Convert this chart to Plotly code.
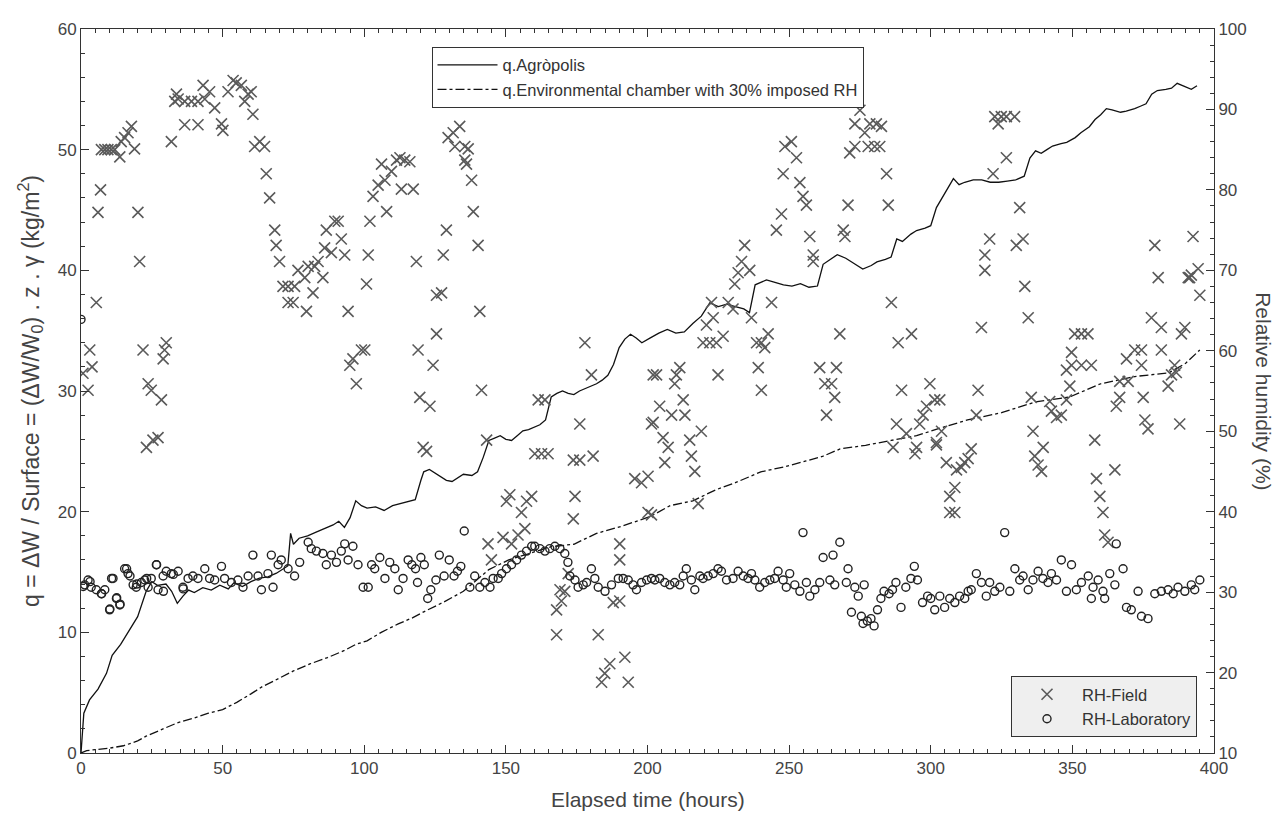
import plotly.graph_objects as go

# ---------------- data ----------------
# q.Agròpolis (left axis, kg/m2)
agro_h = [0, 0.5, 1, 3, 6, 9, 11, 14, 17, 20, 23, 25, 27, 30, 32, 34, 36, 38, 40, 43, 46, 49, 52, 54, 57, 60,
          63, 66, 69, 71, 73, 74, 75, 77, 80, 83, 86, 89, 91, 93, 95, 97, 99, 101, 104, 107, 110, 113, 116, 118,
          120, 121, 123, 125, 127, 129, 131, 133, 135, 138, 140, 142, 144, 146, 148, 150, 152, 154, 156, 158,
          160, 162, 164, 165, 166, 168, 170, 172, 174, 176, 178, 180, 182, 184, 186, 188, 190, 192, 194, 196,
          198, 201, 204, 207, 210, 213, 216, 219, 222, 225, 228, 231, 234, 236, 238, 240, 242, 245, 248, 251,
          254, 257, 260, 262, 264, 267, 270, 272, 274, 276, 279, 281, 284, 286, 288, 290, 293, 295, 298, 300,
          302, 304, 306, 308, 310, 312, 315, 318, 321, 324, 327, 330, 333, 335, 337, 339, 341, 343, 346, 348,
          351, 353, 356, 358, 360, 362, 364, 367, 369, 372, 374, 376, 378, 380, 383, 385, 387, 390, 392, 394]
agro_q = [0, 1.5, 3.3, 4.4, 5.3, 6.6, 8.1, 9.0, 10.2, 11.3, 13.4, 14.2, 13.9, 14.0, 13.4, 12.4, 13.0, 13.5, 13.3,
          13.7, 13.5, 13.9, 13.6, 14.1, 13.8, 14.2, 14.5, 14.6, 14.9, 15.2, 15.5, 18.2, 17.3, 17.8, 18.0, 18.3,
          18.6, 18.9, 19.2, 18.7, 19.5, 20.9, 20.5, 20.3, 20.4, 20.1, 20.5, 20.7, 20.9, 21.0, 22.6, 23.3, 23.5,
          23.2, 22.9, 22.6, 22.5, 22.8, 23.1, 23.0, 23.3, 24.5, 25.9, 26.1, 26.3, 26.0, 25.9, 26.3, 26.7, 26.8,
          27.0, 27.2, 27.6, 28.5, 29.5, 29.8, 30.0, 29.8, 29.7, 30.0, 30.2, 30.4, 30.6, 30.9, 31.3, 32.2, 33.6,
          34.3, 34.7, 34.4, 34.0, 34.4, 34.8, 35.1, 34.8, 34.9, 35.6, 36.2, 37.3, 37.0, 37.2, 37.0, 36.8, 36.5,
          38.8, 39.0, 39.2, 39.0, 38.8, 38.7, 38.9, 38.6, 38.7, 40.5, 40.8, 41.3, 41.0, 40.7, 40.4, 40.1, 40.4,
          40.7, 40.9, 41.1, 42.6, 42.4, 43.0, 43.3, 43.5, 43.7, 45.2, 46.0, 46.9, 47.6, 47.1, 47.3, 47.5, 47.5,
          47.3, 47.3, 47.4, 47.5, 47.8, 49.3, 49.9, 49.7, 50.0, 50.3, 50.5, 50.6, 51.0, 51.4, 51.9, 52.5, 52.9,
          53.4, 53.3, 53.1, 53.2, 53.4, 53.6, 53.8, 54.6, 54.9, 55.0, 55.1, 55.5, 55.2, 55.0, 55.3]

# q.Environmental chamber with 30% imposed RH (left axis)
cham_h = [0, 2, 6, 10, 15, 20, 23, 28, 34, 40, 45, 50, 55, 60, 64, 70, 75, 81, 87, 93, 97, 101, 106, 112, 117,
          121, 128, 135, 140, 144, 151, 159, 166, 174, 182, 191, 201, 208, 216, 224, 231, 240, 248, 256, 262,
          268, 277, 286, 295, 303, 313, 325, 337, 349, 360, 372, 384, 390, 395]
cham_q = [0, 0.2, 0.3, 0.4, 0.6, 1.0, 1.4, 1.9, 2.5, 2.9, 3.3, 3.6, 4.2, 4.9, 5.5, 6.2, 6.8, 7.4, 7.9, 8.5, 9.0,
          9.3, 10.0, 10.7, 11.2, 11.7, 12.5, 13.4, 14.4, 15.2, 16.0, 16.6, 17.1, 17.3, 18.2, 18.8, 19.6, 20.5,
          20.9, 21.8, 22.4, 23.3, 23.7, 24.2, 24.6, 25.2, 25.5, 25.9, 26.3, 26.9, 27.6, 28.2, 29.1, 29.5, 30.6,
          31.2, 31.5, 32.3, 33.4]

# RH-Field (right axis, %)
field_h = [0.7, 3.1, 3.9, 2.5, 5.4, 6.0, 6.9, 7.2, 8.4, 9.5, 10.7, 11.9, 13.7, 14.2, 15.4, 16.6, 17.8, 18.9,
           20.1, 20.7, 21.9, 23.1, 23.7, 24.8, 28.4, 25.4, 27.2, 29.0, 30.1, 29.5, 31.9, 33.7, 33.1, 34.3, 36.6,
           39.0, 41.3, 36.6, 41.3, 43.7, 43.1, 45.4, 47.2, 49.6, 50.1, 51.9, 53.7, 54.8, 56.6, 57.8, 59.0, 60.1,
           60.7, 61.3, 63.1, 64.8, 65.4, 66.6, 68.4, 68.9, 70.1, 71.3, 73.1, 75.4, 73.1, 74.9, 76.6, 79.0, 80.2,
           79.6, 81.9, 82.5, 83.7, 85.4, 86.0, 86.6, 88.4, 89.6, 90.8, 91.9, 93.1, 94.3, 94.9, 96.0, 97.2, 99.0,
           100.2, 100.8, 101.4, 102.0, 103.1, 104.9, 106.1, 107.3, 107.9, 109.6, 111.4, 112.6, 114.3, 116.1,
           113.1, 117.3, 118.4, 119.0, 119.6, 123.2, 120.8, 122.0, 124.3, 125.5, 125.5, 127.3, 127.9, 129.0,
           129.6, 131.4, 132.0, 133.7, 135.5, 136.7, 135.5, 136.1, 137.9, 138.5, 140.2, 140.8, 141.4, 143.2,
           143.7, 144.9, 149.0, 152.0, 154.3, 156.7, 150.2, 151.4, 155.5, 157.3, 159.1, 161.4, 163.8, 160.2,
           162.6, 164.9, 167.9, 169.6, 170.8, 169.1, 167.9, 172.0, 173.8, 174.4, 173.8, 176.1, 180.8, 176.1,
           180.2, 177.9, 182.6, 183.8, 184.9, 186.7, 187.9, 190.2, 190.2, 190.2, 192.0, 193.2, 195.5, 197.9,
           200.2, 200.2, 202.0, 201.4,
           201.4, 202.0, 203.2, 204.3, 205.5, 207.3, 206.1, 208.5, 213.2, 209.6, 210.2, 211.4, 212.6, 214.9,
           215.5, 216.7, 217.9, 219.0, 219.6, 222.0, 224.3, 226.7, 220.8, 223.2, 222.6, 224.9, 228.5, 230.2,
           230.8, 232.0, 233.2, 234.3, 236.1, 236.7, 238.5, 240.2, 241.4, 242.6, 239.1, 240.2, 243.8, 245.5,
           247.3, 247.9, 248.5, 250.8, 252.6, 253.8, 254.9, 256.1, 257.3, 258.5, 258.5, 260.8, 262.6, 265.0,
           266.7, 266.1, 263.2, 267.9, 269.1, 269.7, 270.8, 271.4, 273.2, 273.2, 275.0, 276.7, 278.5, 280.8,
           282.6, 277.9, 280.2, 282.0, 284.4, 285.0, 286.1, 288.5, 293.2, 289.7, 286.7, 287.9, 291.4, 294.4,
           295.0, 296.1, 297.3, 298.5, 299.7, 301.4, 302.0,
           303.2, 302.0, 303.8, 305.5, 306.7, 308.5, 306.7, 308.5, 309.1, 310.8, 312.0, 313.2, 314.3, 316.1,
           316.7, 317.9, 319.1, 319.1, 320.8, 322.0, 322.6, 323.8, 324.9, 326.7, 329.6, 326.7, 330.2, 331.4,
           332.6, 333.2, 334.4, 335.5, 336.1, 336.7, 337.9, 339.1, 339.7, 342.0, 342.6, 344.4, 346.1, 347.9,
           349.1, 347.9, 349.7, 350.8, 353.2, 355.5, 349.7, 353.2, 356.7, 357.9, 358.5, 359.7, 360.8, 361.4,
           362.6, 365.0, 365.5, 366.7, 366.7, 369.7, 369.1, 372.0, 374.4, 374.4, 375.0, 375.6, 376.7, 377.9,
           379.1, 380.3, 381.4, 381.4, 383.8, 385.0, 386.1, 386.7, 387.9, 388.5, 389.7, 390.9, 391.4, 392.0,
           392.6, 394.4, 395.0]
field_rh = [57.2, 60.1, 58.0, 55.1, 66.0, 77.2, 80.0, 85.0, 85.0, 85.0, 85.0, 85.0, 84.1, 86.0, 86.5, 87.1, 87.9,
            85.1, 77.2, 71.1, 60.1, 48.0, 55.9, 55.1, 53.9, 48.9, 49.2, 59.0, 61.0, 60.1, 86.0, 91.9, 91.0, 91.3,
            91.0, 91.0, 91.0, 88.1, 88.1, 91.3, 93.0, 92.2, 90.2, 88.2, 87.4, 92.2, 93.6, 93.3, 93.0, 91.0, 91.9,
            92.2, 89.4, 85.4, 86.0, 85.4, 82.0, 79.0, 75.0, 73.1, 71.1, 68.0, 68.0, 68.0, 66.0, 66.0, 70.0, 69.1,
            70.5, 64.9, 67.2, 70.5, 71.1, 69.1, 72.8, 75.0, 72.2, 76.1, 76.1, 73.9, 71.9, 64.9, 58.2, 59.0, 55.9,
            60.1,
            60.1, 68.3, 71.9, 76.1, 79.2, 80.6, 83.2, 81.2, 77.3, 82.3, 83.7, 84.0, 83.7, 83.5, 80.1, 80.1, 71.1,
            60.1, 54.2, 53.1, 48.0, 47.5, 58.2, 62.1, 66.9, 67.2, 71.9, 75.0, 86.5, 87.1, 85.4, 87.9, 85.4, 85.1,
            83.7, 83.2, 81.2, 77.3, 73.1, 64.9, 55.1, 48.9, 36.0, 34.0, 36.8, 36.0, 37.1, 37.9, 41.3, 42.1, 39.9,
            41.3, 41.9, 53.9, 53.9, 47.2, 47.2, 47.2, 27.8, 28.9, 30.1, 30.3, 24.7, 32.3, 39.1, 41.9, 46.4, 46.4,
            46.9, 50.9, 57.0, 61.0, 24.7, 18.8, 19.9, 21.1, 28.7, 28.9, 36.0, 34.0, 21.9, 18.8, 44.1, 43.6, 44.4,
            39.9, 57.0, 50.9,
            39.6, 51.1, 57.0, 53.1, 49.2, 48.0, 46.1, 52.0, 52.0, 55.9, 57.0, 57.9, 53.9, 48.9, 46.9, 45.0, 41.0,
            50.0, 61.0, 61.0, 61.0, 61.8, 63.2, 64.1, 66.0, 57.0, 66.0, 65.2, 68.3, 69.7, 71.1, 73.1, 70.0, 64.1,
            61.0, 61.0, 60.4, 62.1, 57.9, 55.1, 66.0, 75.0, 77.0, 82.0, 85.4, 86.0, 84.0, 80.9, 79.2, 78.1, 74.2,
            71.9, 71.1, 57.9, 55.9, 55.9, 57.9, 54.2, 52.0, 62.1, 75.0, 74.2, 78.1, 84.6, 85.4, 88.2, 89.9, 87.1,
            88.2, 88.2, 87.9, 85.4, 85.4, 85.4, 82.0, 78.1, 66.0, 61.0, 62.1, 55.1, 48.0, 50.9, 49.7, 47.2, 48.0,
            50.9, 52.0, 53.1, 55.9, 53.9, 48.6,
            53.9, 48.3, 50.0, 46.1, 41.9, 43.0, 39.9, 39.9, 45.2, 45.5, 46.1, 46.6, 47.8, 52.0, 55.1, 62.9, 70.0,
            71.9, 73.9, 82.0, 89.1, 88.2, 89.1, 89.1, 89.1, 84.0, 73.1, 77.8, 73.9, 68.0, 64.1, 54.2, 50.0, 46.9,
            45.8, 45.0, 48.0, 53.7, 52.5, 51.7, 52.0, 53.9, 55.6, 57.6, 59.8, 62.1, 62.1, 62.1, 58.2, 58.2, 58.2,
            48.9, 44.1, 41.9, 39.9, 37.1, 36.2, 45.2, 53.1, 54.2, 56.2, 56.2, 59.0, 60.1, 60.1, 58.2, 54.2, 51.4,
            50.3, 64.1, 73.1, 69.1, 62.9, 60.1, 55.6, 57.0, 58.2, 57.3, 50.9, 62.1, 62.9, 69.1, 69.1, 69.4, 74.2,
            70.2, 66.9]

# RH-Laboratory (right axis, %)
lab_h = [0.0, 0.8, 1.3, 2.5, 3.2, 3.6, 5.4, 7.2, 7.3, 8.4, 10.1, 10.2, 10.8, 11.3, 12.5, 12.6, 13.7, 13.8, 15.4,
         16.1, 16.6, 17.3, 18.4, 19.5, 19.7, 21.3, 22.5, 23.2, 23.7, 24.8, 26.6, 26.7, 27.2, 29.0, 29.1, 30.1,
         31.9, 32.6, 34.3, 36.0, 36.1, 37.8, 39.5, 41.3, 43.7, 45.4, 47.2, 49.6, 50.7, 53.1, 55.4, 57.2, 59.0,
         60.7, 62.5, 63.7, 66.0, 67.2, 67.8, 69.6, 70.7, 73.1, 75.4, 77.2, 80.2, 81.3, 83.1, 85.4, 86.6, 88.4,
         90.2, 91.9, 93.1, 94.3, 96.0, 97.8, 99.6,
         101.4, 102.6, 103.7, 105.5, 107.3, 109.0, 110.8, 112.0, 113.7, 115.5, 116.8, 118.1, 118.8, 120.0,
         121.2, 122.4, 123.5, 125.3, 126.5, 128.2, 130.0, 131.7, 132.9, 134.1, 135.3, 137.3, 139.0, 140.8,
         142.6, 144.4, 145.5, 147.3, 148.5, 150.2, 152.0, 153.8, 155.5, 157.3, 159.1, 160.2, 162.0, 163.8,
         165.5, 167.3, 169.1, 170.8, 171.9, 172.6, 174.4, 175.5, 177.3, 178.5, 180.2, 181.4, 182.6, 185.0,
         187.3, 189.7, 191.4, 193.2, 194.9, 196.1, 197.9, 199.7, 201.4,
         202.6, 204.3, 206.1, 207.9, 209.6, 211.4, 212.6, 213.7, 215.5, 216.7, 218.5, 219.6, 221.4, 223.2,
         224.9, 226.1, 227.9, 230.2, 232.0, 233.8, 235.5, 236.7, 237.9, 239.6, 241.4, 243.2, 244.9, 246.1,
         247.9, 249.0, 250.2, 252.0, 253.8, 254.9, 256.1, 257.3, 259.1, 260.8, 262.0, 264.4, 265.5, 266.1,
         267.9, 270.2, 270.8, 272.0, 273.2, 274.4, 275.5, 276.1, 276.5, 277.6, 278.9, 280.0, 281.2, 282.4,
         283.5, 285.3, 286.5, 287.7, 289.5, 291.2, 293.0, 294.2, 295.3, 297.1, 298.9, 300.0,
         301.4, 303.2, 304.9, 306.7, 308.5, 310.2, 312.0, 313.2, 314.3, 316.1, 317.9, 319.6, 320.8, 322.6,
         324.4, 326.1, 327.9, 329.7, 331.4, 332.6, 334.4, 336.1, 337.9, 339.6, 341.4, 342.6, 344.4, 346.1,
         347.9, 349.7, 351.4, 353.2, 355.6, 356.7, 357.3, 359.1, 360.8, 361.4, 363.2, 365.0, 365.5, 367.9,
         369.1, 370.8, 373.2, 374.4, 376.7, 379.1, 381.4, 383.8, 385.6, 387.3, 389.7, 392.0, 393.2, 395.0]
lab_rh = [63.9, 30.7, 30.9, 31.5, 31.3, 30.6, 30.3, 29.8, 29.8, 30.3, 27.8, 27.9, 31.7, 31.7, 29.2, 29.3, 28.4,
          28.5, 32.9, 32.9, 32.3, 32.0, 30.9, 30.6, 31.0, 31.2, 31.5, 31.7, 30.6, 31.7, 33.4, 33.4, 30.3, 32.0,
          30.1, 32.6, 32.3, 32.2, 32.6, 30.6, 30.4, 31.7, 32.0, 31.7, 32.9, 31.7, 31.5, 33.2, 31.7, 31.2, 31.5,
          30.6, 32.0, 34.6, 32.0, 30.3, 32.3, 34.6, 30.6, 33.4, 34.0, 32.9, 32.0, 33.7, 36.2, 35.4, 35.1, 34.8,
          33.4, 34.6, 33.7, 35.1, 36.0, 34.0, 35.7, 33.4, 30.6,
          30.6, 33.4, 32.9, 34.3, 31.7, 33.7, 32.9, 30.3, 31.7, 34.0, 33.4, 32.9, 31.2, 34.3, 33.4, 29.2, 30.3,
          31.5, 34.6, 32.0, 34.0, 32.0, 32.6, 33.2, 37.6, 30.6, 32.0, 30.6, 31.2, 30.6, 31.7, 31.7, 32.3, 32.9,
          33.4, 34.0, 34.6, 35.1, 35.7, 35.7, 35.4, 35.1, 35.4, 35.7, 35.4, 34.8, 33.7, 32.0, 31.5, 30.6, 30.9,
          31.2, 32.9, 31.7, 30.6, 30.1, 30.9, 31.7, 31.7, 31.5, 30.9, 30.3, 31.2, 31.5, 31.7,
          31.5, 31.7, 31.2, 30.9, 31.2, 30.9, 32.0, 32.9, 31.5, 30.3, 32.0, 31.7, 32.0, 32.3, 32.9, 32.6, 31.5,
          31.7, 32.6, 32.0, 31.7, 32.3, 31.5, 30.6, 31.2, 31.5, 31.7, 32.6, 31.5, 30.6, 32.3, 30.9, 30.1, 37.4,
          31.2, 29.5, 30.3, 31.2, 34.3, 31.5, 34.6, 30.9, 36.2, 31.2, 32.9, 27.5, 30.6, 29.5, 27.0, 26.1, 30.9,
          26.4, 26.7, 25.8, 27.8, 29.2, 30.1, 29.8, 30.3, 31.2, 28.1, 30.6, 31.7, 33.2, 31.5, 28.7, 29.5, 29.2,
          27.8, 29.5,
          28.1, 29.2, 28.7, 29.5, 29.2, 30.1, 30.3, 32.3, 31.2, 29.5, 31.2, 30.1, 30.6, 37.4, 30.1, 32.9, 31.5,
          32.0, 30.3, 31.5, 32.6, 31.7, 31.2, 32.3, 31.5, 34.0, 30.1, 33.4, 30.3, 31.2, 32.0, 29.2, 30.6, 31.5,
          30.1, 29.2, 32.3, 30.9, 36.0, 32.9, 28.1, 27.8, 30.1, 27.0, 26.7, 29.8, 30.1, 30.3, 29.8, 30.6, 30.1,
          30.9, 30.3, 31.5, 32.6, 31.2]

# ---------------- figure ----------------
AX = "#333333"
TXT = "#444444"
FONT = "Liberation Sans, Arial, sans-serif"

fig = go.Figure()

fig.add_trace(go.Scatter(x=agro_h, y=agro_q, mode="lines", name="q.Agròpolis",
                         line=dict(color="#111111", width=1.3), legend="legend", yaxis="y"))
fig.add_trace(go.Scatter(x=cham_h, y=cham_q, mode="lines",
                         name="q.Environmental chamber with 30% imposed RH",
                         line=dict(color="#111111", width=1.3, dash="dashdot"), legend="legend", yaxis="y"))
fig.add_trace(go.Scatter(x=field_h, y=field_rh, mode="markers", name="RH-Field",
                         marker=dict(symbol="x-thin-open", size=11, color="#5a5a5a",
                                     line=dict(color="#5a5a5a", width=1.6)),
                         legend="legend2", yaxis="y2"))
fig.add_trace(go.Scatter(x=lab_h, y=lab_rh, mode="markers", name="RH-Laboratory",
                         marker=dict(symbol="circle-open", size=8, color="#222222",
                                     line=dict(color="#222222", width=1.4)),
                         legend="legend2", yaxis="y2"))

tickfont = dict(family=FONT, size=17, color=TXT)
titlefont = dict(family=FONT, size=21, color=TXT)

# The page body adds an 8 px offset, so the figure is 8 px smaller than the window.
fig.update_layout(
    width=1276, height=809,
    margin=dict(l=73, r=70, t=12, b=64),
    paper_bgcolor="white", plot_bgcolor="white",
    font=dict(family=FONT, color=TXT),
    xaxis=dict(range=[0, 400], tick0=0, dtick=50, ticks="inside", ticklen=8, tickcolor=AX,
               showline=True, linecolor=AX, linewidth=1, mirror="ticks",
               showgrid=False, zeroline=False, tickfont=tickfont,
               minor=dict(ticks="inside", ticklen=4, dtick=5, tickcolor=AX, showgrid=False)),
    yaxis=dict(range=[0, 60], tick0=0, dtick=10, ticks="inside", ticklen=8, tickcolor=AX,
               showline=True, linecolor=AX, linewidth=1,
               showgrid=False, zeroline=False, tickfont=tickfont,
               minor=dict(ticks="inside", ticklen=4, dtick=2, tickcolor=AX, showgrid=False)),
    yaxis2=dict(range=[10, 100], tick0=10, dtick=10, ticks="inside", ticklen=8, tickcolor=AX,
                overlaying="y", side="right",
                showline=True, linecolor=AX, linewidth=1,
                showgrid=False, zeroline=False, tickfont=tickfont,
                minor=dict(ticks="inside", ticklen=4, dtick=2, tickcolor=AX, showgrid=False)),
    legend=dict(x=0.5, xanchor="center", y=0.9755, yanchor="top",
                bgcolor="white", bordercolor=AX, borderwidth=1, itemwidth=60,
                font=dict(family=FONT, size=16.5, color="#333333"), tracegroupgap=0),
    legend2=dict(x=0.985, xanchor="right", y=0.022, yanchor="bottom",
                 bgcolor="#efefef", bordercolor=AX, borderwidth=1, itemwidth=60,
                 font=dict(family=FONT, size=16.5, color="#333333")),
    annotations=[
        dict(text="Elapsed time (hours)", xref="paper", yref="paper", x=0.5, y=-0.064,
             xanchor="center", yanchor="middle", showarrow=False, font=titlefont),
        dict(text="q = ΔW / Surface = (ΔW/W<sub>0</sub>) . z . γ (kg/m<sup>2</sup>)",
             xref="paper", yref="paper", x=-0.045, y=0.5, textangle=-90,
             xanchor="center", yanchor="middle", showarrow=False,
             font=dict(family=FONT, size=23, color=TXT)),
        dict(text="Relative humidity (%)", xref="paper", yref="paper", x=1.044, y=0.5, textangle=90,
             xanchor="center", yanchor="middle", showarrow=False, font=titlefont),
    ],
)

fig.write_html("out.html")
